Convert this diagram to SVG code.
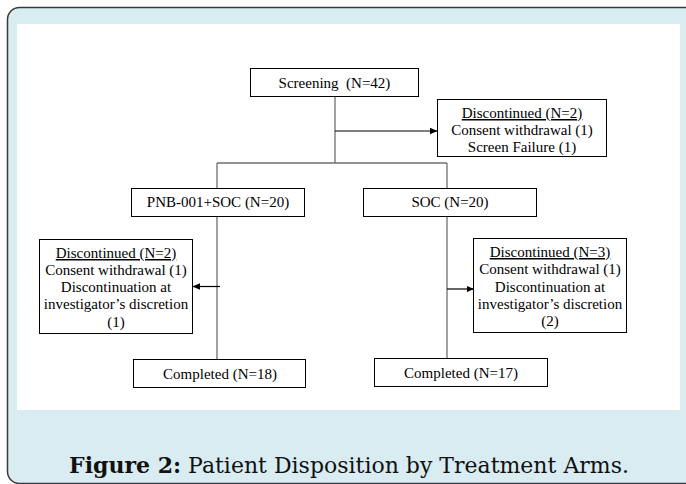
<svg xmlns="http://www.w3.org/2000/svg" width="686" height="484" viewBox="0 0 686 484">
<style>
.box{fill:#fff;stroke:#000;stroke-width:1}
.t{font-family:"Liberation Serif","Times New Roman",serif;font-size:15px;fill:#000;text-anchor:middle}
.u{text-decoration:underline}
.c{fill:none;stroke:#6e6e6e;stroke-width:1.3}
.a{fill:none;stroke:#000;stroke-width:1.2}
.cap{font-family:"DejaVu Serif",serif;font-size:22px;fill:#111;text-anchor:middle}
</style>
<defs>
<marker id="ah" markerWidth="8" markerHeight="8" refX="7" refY="4" orient="auto" markerUnits="userSpaceOnUse">
<path d="M0,0.8 L7.5,4 L0,7.2 Z" fill="#000"/>
</marker>
</defs>
<rect x="7.5" y="7.5" width="700" height="476" rx="12" ry="12" fill="#d9ecf1" stroke="#3a3a3a" stroke-width="1.5"/>
<rect x="17" y="24" width="663" height="386" fill="#fff"/>
<g id="connectors">
<line class="c" x1="335" y1="97" x2="335" y2="163"/>
<line class="a" x1="335" y1="131" x2="437" y2="131" marker-end="url(#ah)"/>
<line class="c" x1="217" y1="163" x2="447" y2="163"/>
<line class="c" x1="217" y1="163" x2="217" y2="188"/>
<line class="c" x1="447" y1="163" x2="447" y2="188"/>
<line class="c" x1="217" y1="217" x2="217" y2="359"/>
<line class="c" x1="447" y1="217" x2="447" y2="358"/>
<line class="a" x1="220" y1="286.5" x2="193" y2="286.5" marker-end="url(#ah)"/>
<line class="a" x1="447" y1="289" x2="473.5" y2="289" marker-end="url(#ah)"/>
</g>
<g id="screening">
<rect class="box" x="250.5" y="68.5" width="168" height="28"/>
<text class="t" x="334.5" y="87.5" xml:space="preserve">Screening  (N=42)</text>
</g>
<g id="disc-screen">
<rect class="box" x="437.5" y="99.5" width="169" height="57"/>
<text class="t u" x="522" y="118">Discontinued (N=2)</text>
<text class="t" x="522" y="135">Consent withdrawal (1)</text>
<text class="t" x="522" y="152">Screen Failure (1)</text>
</g>
<g id="pnb">
<rect class="box" x="131.5" y="188.5" width="173" height="28"/>
<text class="t" x="218" y="207">PNB-001+SOC (N=20)</text>
</g>
<g id="soc">
<rect class="box" x="363.5" y="188.5" width="173" height="28"/>
<text class="t" x="450" y="207">SOC (N=20)</text>
</g>
<g id="disc-pnb">
<rect class="box" x="39.5" y="239.5" width="153" height="94"/>
<text class="t u" x="116" y="258">Discontinued (N=2)</text>
<text class="t" x="116" y="275">Consent withdrawal (1)</text>
<text class="t" x="116" y="292">Discontinuation at</text>
<text class="t" x="116" y="309">investigator’s discretion</text>
<text class="t" x="116" y="326.5">(1)</text>
</g>
<g id="disc-soc">
<rect class="box" x="473.5" y="238.5" width="153" height="94"/>
<text class="t u" x="550" y="257">Discontinued (N=3)</text>
<text class="t" x="550" y="274">Consent withdrawal (1)</text>
<text class="t" x="550" y="291.5">Discontinuation at</text>
<text class="t" x="550" y="308.5">investigator’s discretion</text>
<text class="t" x="550" y="326">(2)</text>
</g>
<g id="completed-pnb">
<rect class="box" x="133.5" y="359.5" width="172" height="28"/>
<text class="t" x="220" y="378.5">Completed (N=18)</text>
</g>
<g id="completed-soc">
<rect class="box" x="374.5" y="358.5" width="173" height="28"/>
<text class="t" x="461" y="377.5">Completed (N=17)</text>
</g>
<text class="cap" x="349" y="473"><tspan font-weight="bold">Figure 2:</tspan> Patient Disposition by Treatment Arms.</text>
</svg>
